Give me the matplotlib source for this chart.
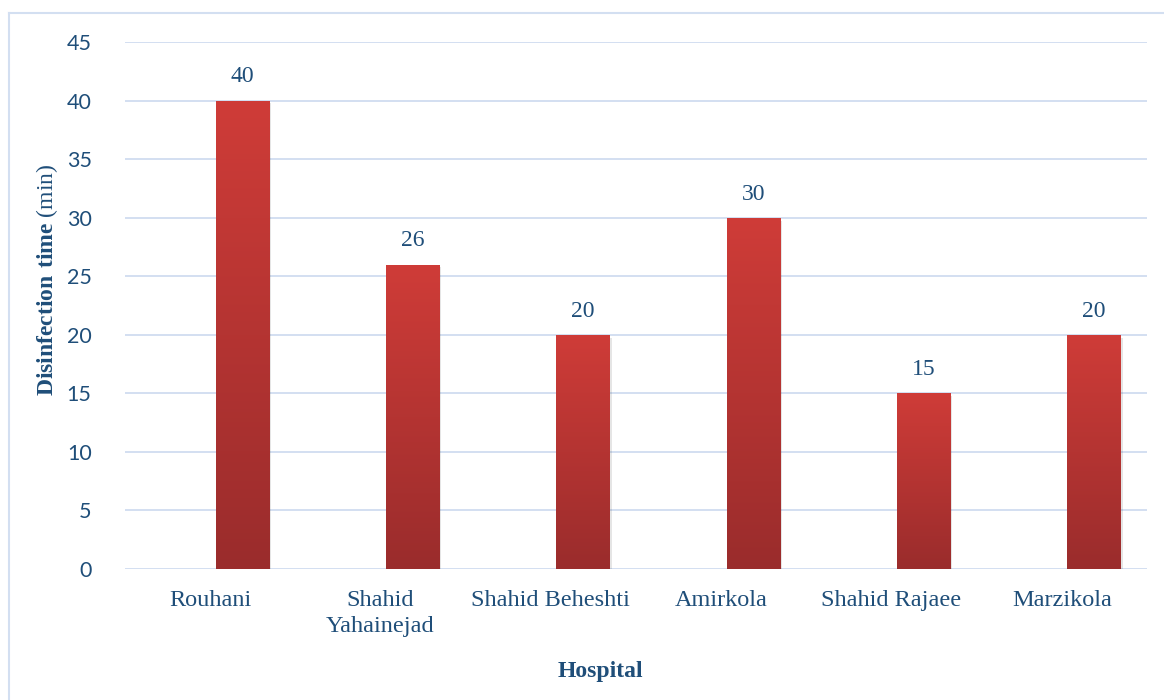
import matplotlib
matplotlib.use("Agg")
import matplotlib.pyplot as plt
import matplotlib.colors as mcolors
from matplotlib.patches import Rectangle
from matplotlib.lines import Line2D
import numpy as np

hospitals = ['Rouhani', 'Shahid\nYahainejad', 'Shahid Beheshti', 'Amirkola',
             'Shahid Rajaee', 'Marzikola']
times = [40, 26, 20, 30, 15, 20]

txt = '#1F4E79'
grid_c = '#D3DFF1'

plt.rcParams['mathtext.fontset'] = 'custom'
plt.rcParams['mathtext.rm'] = 'Liberation Serif'
plt.rcParams['mathtext.bf'] = 'Liberation Serif:bold'

fig = plt.figure(figsize=(11.64, 7.0), dpi=100)
ax = fig.add_axes([125/1164, 1-569/700, (1147-125)/1164, (569-42)/700])

x = np.arange(len(hospitals))
off = 0.19
w = 0.317

# gradient red bars (light top, dark bottom)
cmap = mcolors.LinearSegmentedColormap.from_list('bar', ['#9A2C2C', '#CF3C38'])
grad = np.linspace(0, 1, 256).reshape(-1, 1)
for xi, v in zip(x, times):
    # soft shadow
    sh = Rectangle((xi + off - w/2 + 0.008, -0.25), w, v, facecolor='#000000',
                   alpha=0.10, edgecolor='none', zorder=2)
    ax.add_patch(sh)
    r = Rectangle((xi + off - w/2, 0), w, v, facecolor='none', edgecolor='none', zorder=3)
    ax.add_patch(r)
    im = ax.imshow(grad, cmap=cmap, aspect='auto', origin='lower',
                   extent=(xi + off - w/2, xi + off + w/2, 0, v), zorder=3)
    im.set_clip_path(r)
    ax.annotate(str(v), (xi + off, v), xytext=(0, 13), textcoords='offset points',
                ha='center', va='baseline', fontsize=17, color=txt,
                family='Liberation Serif')

ax.set_xlim(-0.5, len(hospitals) - 0.5)
ax.set_ylim(0, 45)
ax.set_yticks(range(0, 46, 5))
ax.set_xticks(x)
ax.set_xticklabels(hospitals, family='Liberation Serif', fontsize=17.5, color=txt,
                   linespacing=1.3)
for lab in ax.get_yticklabels():
    lab.set_family('Lato')
    lab.set_fontsize(15.5)
    lab.set_color(txt)
ax.tick_params(axis='both', length=0)
ax.tick_params(axis='y', pad=24)
ax.tick_params(axis='x', pad=15)
ax.grid(axis='y', color=grid_c, linewidth=1.4, zorder=0)
ax.set_axisbelow(True)
for s in ax.spines.values():
    s.set_visible(False)

fig.text(47/1164, 1-280/700, r'$\bf{Disinfection\ time}$ (min)', rotation=90,
         ha='center', va='center', fontsize=17, color=txt, family='Liberation Serif')
fig.text(600/1164, 1-671/700, 'Hospital', ha='center', va='center', fontsize=17,
         fontweight='bold', color=txt, family='Liberation Serif')

# outer frame lines (left and top)
fig.add_artist(Line2D([9/1164, 9/1164], [0, 1-13/700], color=grid_c, linewidth=1.5))
fig.add_artist(Line2D([9/1164, 1], [1-13/700, 1-13/700], color=grid_c, linewidth=1.5))

fig.savefig('out.png', dpi=100)
